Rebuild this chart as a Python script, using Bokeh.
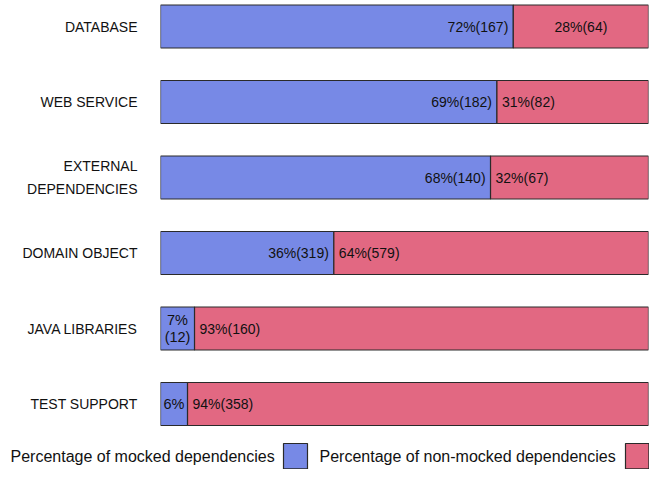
from bokeh.plotting import figure
from bokeh.models import ColumnDataSource, Range1d, FixedTicker
from bokeh.layouts import column
from bokeh.core.properties import value
from bokeh.embed import file_html
from bokeh.resources import INLINE

# ---- data ----
categories = ["DATABASE", "WEB SERVICE", "EXTERNAL\nDEPENDENCIES", "DOMAIN OBJECT",
              "JAVA LIBRARIES", "TEST SUPPORT"]
mocked = [167, 182, 140, 319, 12, 21]
non_mocked = [64, 82, 67, 579, 160, 358]
mocked_labels = ["72%(167)", "69%(182)", "68%(140)", "36%(319)", "7%\n(12)", "6%"]
non_mocked_labels = ["28%(64)", "31%(82)", "32%(67)", "64%(579)", "93%(160)", "94%(358)"]
legend_labels = ["Percentage of mocked dependencies", "Percentage of non-mocked dependencies"]

BLUE = "#7789E6"
PINK = "#E26882"
EDGE = "#2a2a2a"
FONT = "Liberation Sans"
TXT = "#111111"

n = len(categories)
ypos = list(range(n))
totals = [m + k for m, k in zip(mocked, non_mocked)]
mock_pct = [100.0 * m / t for m, t in zip(mocked, totals)]

W, H1, H2 = 649, 440, 29
UNIT = 75.5
TOP = 26.0

p = figure(width=W, height=H1, output_backend="svg", toolbar_location=None,
           x_range=Range1d(0, 100),
           y_range=Range1d(start=(H1 - TOP) / UNIT, end=-TOP / UNIT),
           min_border_left=160, min_border_right=1, min_border_top=0, min_border_bottom=0)
p.frame_align = False
p.outline_line_color = None
p.grid.visible = False
p.xaxis.visible = False

src = ColumnDataSource(dict(y=ypos, m=mock_pct, full=[100.0] * n))
bh = 43.0 / UNIT
p.hbar(y="y", left=0, right="m", height=bh, source=src, fill_color=BLUE,
       line_color=EDGE, line_width=1.2)
p.hbar(y="y", left="m", right="full", height=bh, source=src, fill_color=PINK,
       line_color=EDGE, line_width=1.2)

# mocked labels
idx_r = [0, 1, 2, 3]
idx_c = [4, 5]
s_mr = ColumnDataSource(dict(x=[mock_pct[i] for i in idx_r], y=[ypos[i] for i in idx_r],
                             t=[mocked_labels[i] for i in idx_r]))
p.text(x="x", y="y", text="t", source=s_mr, text_align="right", text_baseline="middle",
       x_offset=-5, text_font=value(FONT), text_font_size="14px", text_color=TXT)
s_mc = ColumnDataSource(dict(x=[mock_pct[i] / 2 for i in idx_c], y=[ypos[i] for i in idx_c],
                             t=[mocked_labels[i] for i in idx_c]))
p.text(x="x", y="y", text="t", source=s_mc, text_align="center", text_baseline="middle",
       text_font=value(FONT), text_font_size="14.5px", text_color=TXT,
       text_line_height=1.05)

# non-mocked labels
idx_nc = [0]
idx_nl = [1, 2, 3, 4, 5]
s_nc = ColumnDataSource(dict(x=[(mock_pct[i] + 100) / 2 for i in idx_nc], y=[ypos[i] for i in idx_nc],
                             t=[non_mocked_labels[i] for i in idx_nc]))
p.text(x="x", y="y", text="t", source=s_nc, text_align="center", text_baseline="middle",
       text_font=value(FONT), text_font_size="14px", text_color=TXT)
s_nl = ColumnDataSource(dict(x=[mock_pct[i] for i in idx_nl], y=[ypos[i] for i in idx_nl],
                             t=[non_mocked_labels[i] for i in idx_nl]))
p.text(x="x", y="y", text="t", source=s_nl, text_align="left", text_baseline="middle",
       x_offset=5, text_font=value(FONT), text_font_size="14px", text_color=TXT)

ya = p.yaxis[0]
ya.ticker = FixedTicker(ticks=ypos)
ya.major_label_overrides = {i: c for i, c in zip(ypos, categories)}
ya.axis_line_color = None
ya.major_tick_line_color = None
ya.minor_tick_line_color = None
ya.major_tick_out = 0
ya.major_tick_in = 0
ya.minor_tick_out = 0
ya.major_label_standoff = 23
ya.major_label_text_font = FONT
ya.major_label_text_font_size = "14px"
ya.major_label_text_color = TXT
ya.major_label_text_line_height = 1.4

# ---- legend strip ----
lg = figure(width=W, height=H2, output_backend="svg", toolbar_location=None,
            x_range=Range1d(0, W), y_range=Range1d(0, H2),
            min_border_left=0, min_border_right=0, min_border_top=0, min_border_bottom=0)
lg.frame_align = False
lg.outline_line_color = None
lg.grid.visible = False
lg.axis.visible = False
lsrc = ColumnDataSource(dict(x=[10, 319], y=[13, 13], t=legend_labels))
lg.text(x="x", y="y", text="t", source=lsrc, text_align="left", text_baseline="middle",
        text_font=value(FONT), text_font_size="16px", text_color=TXT)
lg.quad(left=[283, 625], right=[307, 648.4], bottom=[0.6, 0.6], top=[26, 26],
        fill_color=[BLUE, PINK], line_color=EDGE, line_width=1.2)

layout = column(p, lg, spacing=0)
open("out.html", "w").write(file_html(layout, INLINE))
